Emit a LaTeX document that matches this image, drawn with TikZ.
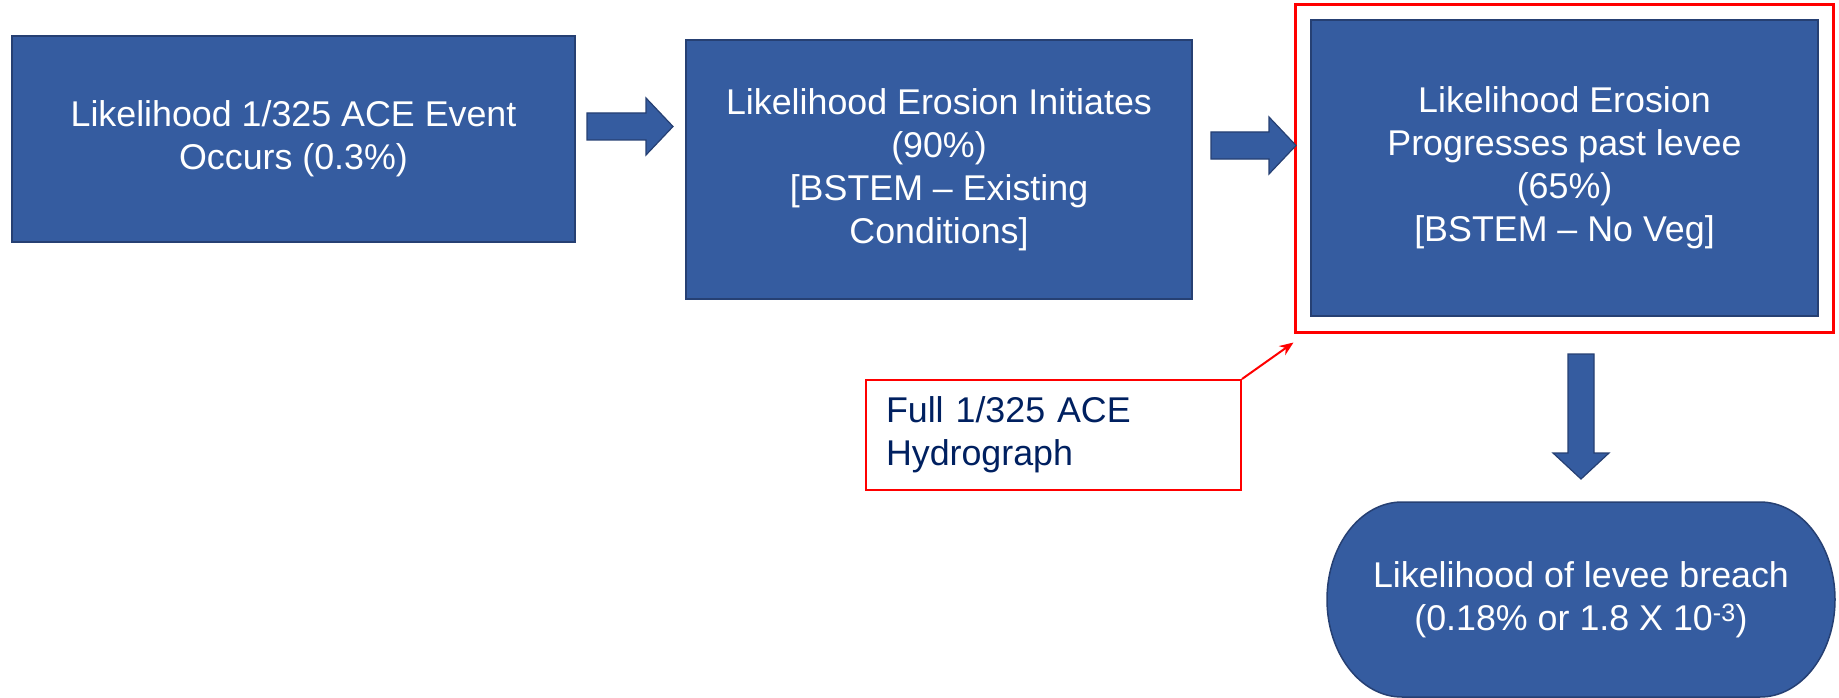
\documentclass[tikz,border=0pt]{standalone}
\usepackage{fontspec}
\setmainfont{Liberation Sans}
\usetikzlibrary{calc,arrows.meta}
\definecolor{boxfill}{RGB}{53,92,160}
\definecolor{boxline}{RGB}{38,64,115}
\definecolor{navy}{RGB}{0,32,96}
\begin{document}
\begin{tikzpicture}[x=1pt,y=-1pt,
  txt/.style={font=\fontsize{35.8}{43}\selectfont},
  box/.style={draw=boxline, line width=1.5pt, fill=boxfill, text=white, align=center, txt, inner sep=0pt},
  blockarrow/.style={draw=boxline, line width=1.2pt, fill=boxfill, line join=miter},
  redframe/.style={draw=red, inner sep=0pt}]
\useasboundingbox (0,0) rectangle (1839,698);
% main boxes
\node[box, minimum width=563pt, minimum height=206pt] (b1) at (293.5,139)
  {Likelihood 1/325 ACE Event\\Occurs (0.3\%)};
\node[box, minimum width=506pt, minimum height=259pt] (b2) at (939,169.5)
  {Likelihood Erosion Initiates\\(90\%)\\{}[BSTEM – Existing\\Conditions]};
\node[box, minimum width=507pt, minimum height=296pt] (b3) at (1564.5,168)
  {Likelihood Erosion\\Progresses past levee\\(65\%)\\{}[BSTEM – No Veg]};
% red highlight frame
\node[redframe, line width=3pt, minimum width=538pt, minimum height=327pt] (frame) at (1564,168.5) {};
% callout
\node[redframe, line width=2pt, text=navy, align=left, text width=335pt, inner xsep=20pt,
      minimum height=110pt, txt] (call) at (1053.5,435) {Full 1/325 ACE\\Hydrograph};
\draw[red, line width=2pt, -{Stealth[length=14pt,width=11pt]}] (call.north east) -- ($(frame.south west)+(0,9)$);
% block arrows
\draw[blockarrow] (587,113) -- (646,113) -- (646,98) -- (673,126.5) -- (646,155) -- (646,140) -- (587,140) -- cycle;
\draw[blockarrow] (1211,132) -- (1269,132) -- (1269,117) -- (1296,145.5) -- (1269,174) -- (1269,159) -- (1211,159) -- cycle;
\draw[blockarrow] (1568,354) -- (1594,354) -- (1594,453) -- (1609,453) -- (1581,479) -- (1553,453) -- (1568,453) -- cycle;
% terminator
\draw[draw=boxline, fill=boxfill, line width=1.5pt] (1402,502) -- (1760,502) arc(-90:90:75 and 97.5)
  -- (1402,697) arc(90:270:75 and 97.5) -- cycle;
\node[text=white, align=center, txt] (brk) at (1581,599.5)
  {Likelihood of levee breach\\(0.18\% or 1.8 X 10\textsuperscript{-3})};
\end{tikzpicture}
\end{document}
